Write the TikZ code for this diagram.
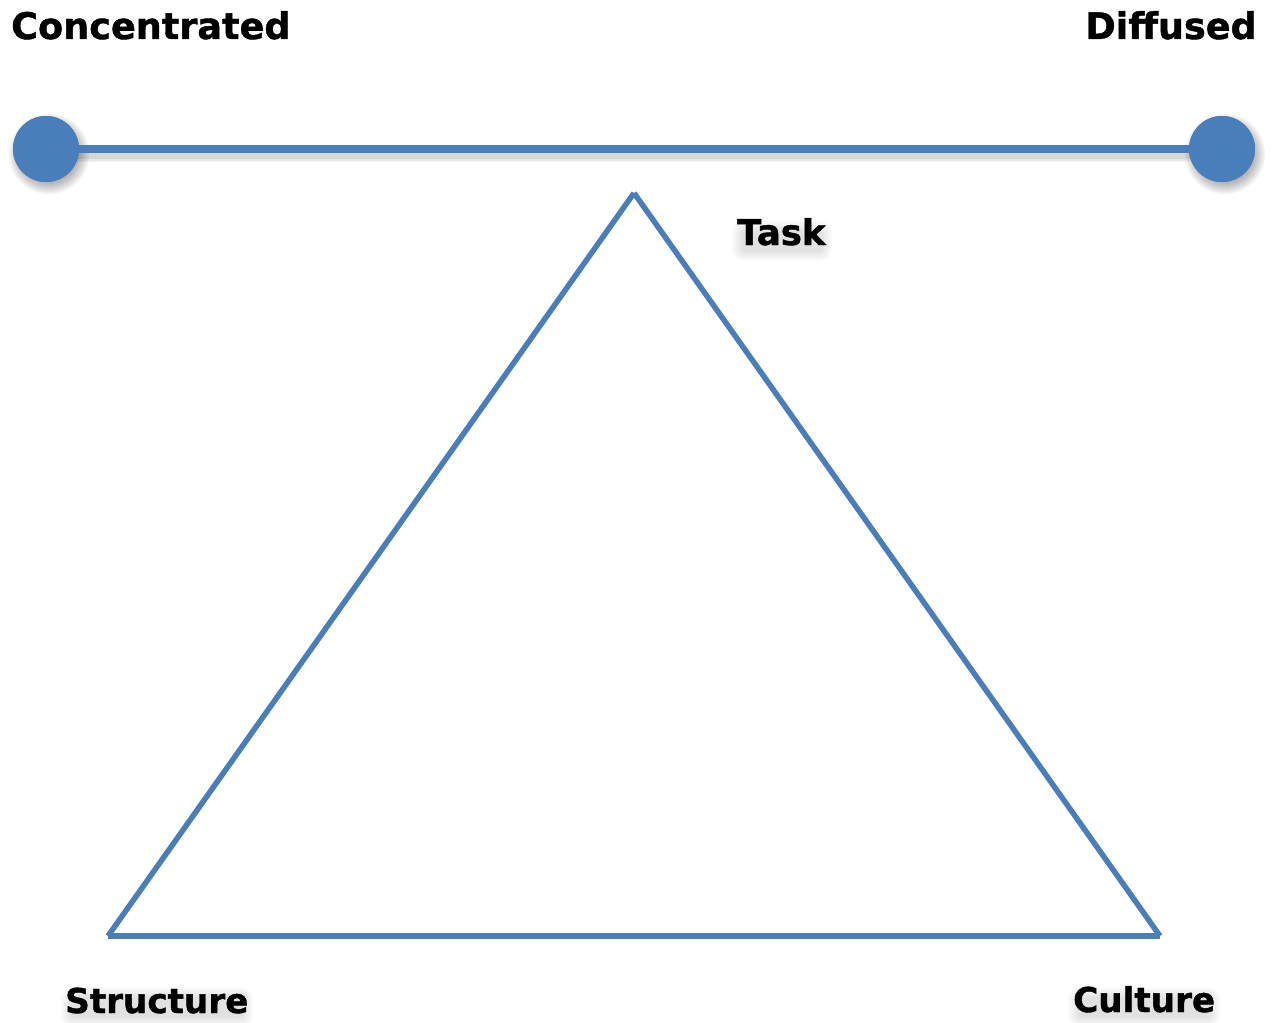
\documentclass[tikz,border=0pt]{standalone}
\usepackage{fontspec}
\setmainfont{DejaVu Sans}[BoldFeatures={FakeBold=1.2}]
\definecolor{blu}{HTML}{4A7EBB}
\tikzset{
  dot/.style={circle, fill=blu, minimum size=66pt, inner sep=0pt},
  bar/.style={blu, line width=7.5pt},
  tri/.style={blu, line width=5.5pt, line cap=butt},
  toplabel/.style={inner sep=0pt, font=\fontsize{36.6}{40}\selectfont\bfseries},
  vlabel/.style={inner sep=0pt, font=\fontsize{34.2}{38}\selectfont\bfseries},
  sh/.style={black, line cap=butt}
}
\newcommand{\softdot}[2]{%
  \foreach \r in {40,38,36,34,32,30,28}{
    \fill[black, opacity=0.05] (#1+3,#2+5) circle[radius=\r pt];
  }}
\newcommand{\softbox}[4]{% cx cy halfw halfh
  \foreach \k in {12,10,8,6,4,2}{
    \fill[black, opacity=0.018, rounded corners=\k pt] (#1-#3-\k,#2-#4-\k+5) rectangle (#1+#3+\k,#2+#4+\k+5);
  }}
\begin{document}
\begin{tikzpicture}[x=1pt,y=-1pt]
\useasboundingbox[fill=white] (0,0) rectangle (1273,1022);
% shadows
\softdot{46}{149}
\softdot{1222}{149}
\softbox{782}{236}{38}{8}
\softbox{157}{1002}{84}{8}
\softbox{1144}{1002}{64}{8}
% end points
\node[dot] (L) at (46,149) {};
\node[dot] (R) at (1222,149) {};
% shadow of bar
\foreach \w/\o in {16/0.04,13/0.05,10/0.07}{
  \draw[sh, line width=\w pt, opacity=\o] ([shift={(2,5)}]L.center) -- ([shift={(2,5)}]R.center);
}
\draw[bar] (L.center) -- (R.center);
\node[dot] at (46,149) {};
\node[dot] at (1222,149) {};
% triangle
\coordinate (A) at (634,193);
\coordinate (B) at (108,936);
\coordinate (C) at (1160,936);
\draw[tri] (A) -- (B);
\draw[tri] (B) -- (C);
\draw[tri] (C) -- (A);
% labels
\node[toplabel, anchor=base west] (conc) at (11,39) {Concentrated};
\node[toplabel, anchor=base east] (diff) at (1257,39) {Diffused};
\node[vlabel, anchor=base west, font=\fontsize{35.5}{38}\selectfont\bfseries] (task) at (737,245) {Task};
\node[vlabel, anchor=base west] (struct) at (65,1013) {Structure};
\node[vlabel, anchor=base west] (cult) at (1073,1012) {Culture};
\end{tikzpicture}
\end{document}
